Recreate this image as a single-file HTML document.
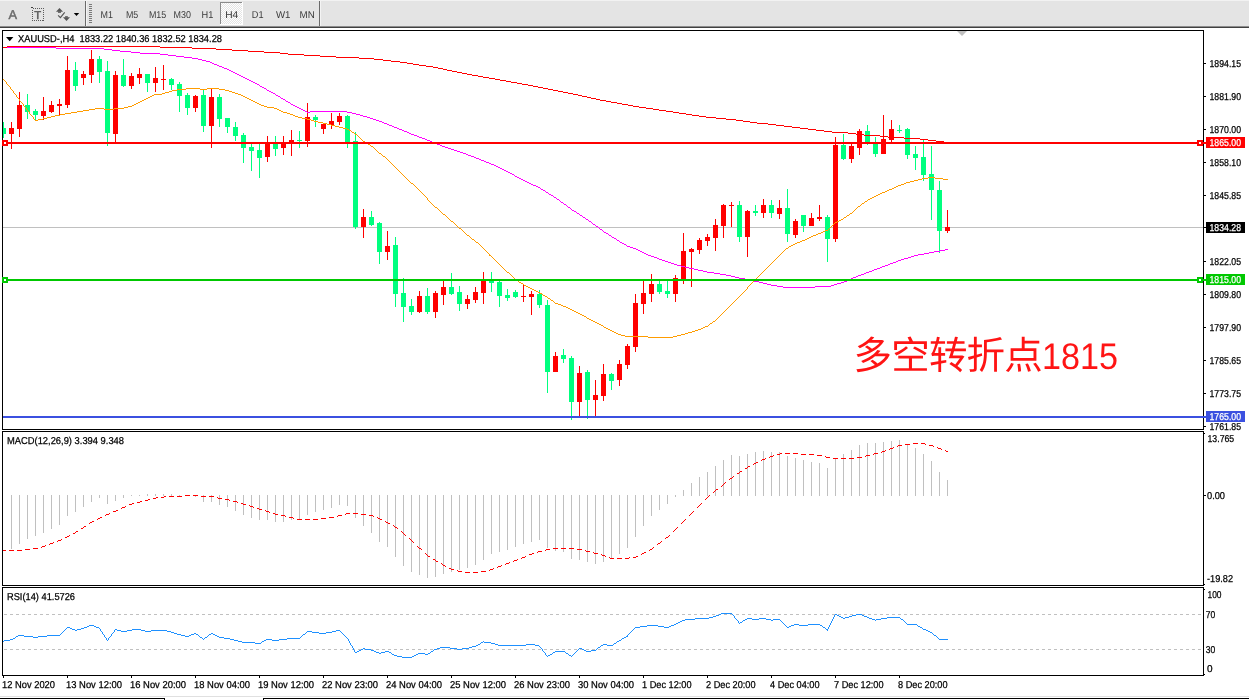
<!DOCTYPE html>
<html lang="zh">
<head>
<meta charset="utf-8">
<title>XAUUSD H4</title>
<style>
html,body{margin:0;padding:0;background:#fff;overflow:hidden}
svg{display:block;will-change:transform;font-family:'Liberation Sans', sans-serif;}
</style>
</head>
<body>
<svg width="1249" height="700" viewBox="0 0 1249 700" shape-rendering="crispEdges" text-rendering="geometricPrecision">
<rect x="0" y="0" width="1249" height="700" fill="#fff"/>
<g id="toolbar">
<rect x="0" y="0" width="1249" height="26" fill="#e4e4e4"/>
<rect x="0" y="0" width="1249" height="1" fill="#f2f2f2"/>
<rect x="0" y="26" width="1249" height="1" fill="#8c8c8c"/>
<rect x="0" y="27" width="1249" height="1" fill="#404040"/>
<text x="8.4" y="19" font-size="12.8" fill="#6a6a6a" stroke="#6a6a6a" stroke-width="0.45">A</text>
<rect x="32.5" y="8.5" width="11" height="12" fill="none" stroke="#5a5a5a" stroke-width="1" stroke-dasharray="1 1"/>
<rect x="31" y="7" width="2" height="1" fill="#404040"/>
<text x="34.3" y="18.9" font-size="11.3" fill="#5a5a5a" stroke="#5a5a5a" stroke-width="0.45">T</text>
<g fill="#555" shape-rendering="geometricPrecision"><polygon points="56,11.7 59.5,8 63,11.7"/><rect x="58" y="11.5" width="3" height="1.3"/><polygon points="63,17.3 70,17.3 66.5,21"/><rect x="65.1" y="16.2" width="2.7" height="1.3"/><polyline points="58.1,15.4 60.4,17.6 64.7,12.3" fill="none" stroke="#555" stroke-width="1.15"/><polygon points="73.8,13 79.2,13 76.5,16" fill="#000"/></g>
<rect x="85" y="1" width="1" height="25" fill="#6a6a6a"/>
<rect x="86" y="1" width="1" height="25" fill="#f4f4f4"/>
<rect x="89" y="4" width="3" height="1" fill="#7a7a7a"/>
<rect x="89" y="6" width="3" height="1" fill="#7a7a7a"/>
<rect x="89" y="8" width="3" height="1" fill="#7a7a7a"/>
<rect x="89" y="10" width="3" height="1" fill="#7a7a7a"/>
<rect x="89" y="12" width="3" height="1" fill="#7a7a7a"/>
<rect x="89" y="14" width="3" height="1" fill="#7a7a7a"/>
<rect x="89" y="16" width="3" height="1" fill="#7a7a7a"/>
<rect x="89" y="18" width="3" height="1" fill="#7a7a7a"/>
<rect x="89" y="20" width="3" height="1" fill="#7a7a7a"/>
<rect x="89" y="22" width="3" height="1" fill="#7a7a7a"/>
<defs><pattern id="chk" width="2" height="2" patternUnits="userSpaceOnUse"><rect width="2" height="2" fill="#e4e4e4"/><rect width="1" height="1" fill="#fff"/><rect x="1" y="1" width="1" height="1" fill="#fff"/></pattern></defs>
<rect x="220" y="2" width="22" height="23" fill="url(#chk)"/>
<rect x="220" y="2" width="22" height="1" fill="#8a8a8a"/>
<rect x="220" y="2" width="1" height="23" fill="#8a8a8a"/>
<rect x="220" y="24" width="23" height="1" fill="#fff"/>
<rect x="242" y="2" width="1" height="23" fill="#fff"/>
<text x="100.6" y="18" font-size="10" fill="#3a3a3a" textLength="12.4" lengthAdjust="spacingAndGlyphs" stroke="none">M1</text>
<text x="125.9" y="18" font-size="10" fill="#3a3a3a" textLength="12.3" lengthAdjust="spacingAndGlyphs" stroke="none">M5</text>
<text x="148.9" y="18" font-size="10" fill="#3a3a3a" textLength="17.3" lengthAdjust="spacingAndGlyphs" stroke="none">M15</text>
<text x="173.5" y="18" font-size="10" fill="#3a3a3a" textLength="17.4" lengthAdjust="spacingAndGlyphs" stroke="none">M30</text>
<text x="201.5" y="18" font-size="10" fill="#3a3a3a" textLength="11.8" lengthAdjust="spacingAndGlyphs" stroke="none">H1</text>
<text x="225.2" y="18" font-size="10" fill="#3a3a3a" textLength="13.1" lengthAdjust="spacingAndGlyphs" stroke="none">H4</text>
<text x="251.8" y="18" font-size="10" fill="#3a3a3a" textLength="11.7" lengthAdjust="spacingAndGlyphs" stroke="none">D1</text>
<text x="276.0" y="18" font-size="10" fill="#3a3a3a" textLength="14.5" lengthAdjust="spacingAndGlyphs" stroke="none">W1</text>
<text x="299.5" y="18" font-size="10" fill="#3a3a3a" textLength="15.2" lengthAdjust="spacingAndGlyphs" stroke="none">MN</text>
<rect x="319" y="1" width="1" height="25" fill="#6a6a6a"/>
<rect x="320" y="1" width="1" height="25" fill="#f4f4f4"/>
</g>
<g id="frames" fill="#000">
<rect x="2" y="30" width="1202" height="1" fill="#000"/>
<rect x="2" y="30" width="1" height="400" fill="#000"/>
<rect x="2" y="429" width="1202" height="1" fill="#000"/>
<rect x="2" y="431" width="1202" height="1" fill="#000"/>
<rect x="2" y="431" width="1" height="155" fill="#000"/>
<rect x="2" y="585" width="1202" height="1" fill="#000"/>
<rect x="2" y="587" width="1202" height="1" fill="#000"/>
<rect x="2" y="587" width="1" height="89" fill="#000"/>
<rect x="2" y="675" width="1202" height="1" fill="#000"/>
<rect x="1203" y="30" width="1" height="400" fill="#000"/>
<rect x="1203" y="431" width="1" height="155" fill="#000"/>
<rect x="1203" y="587" width="1" height="89" fill="#000"/>
</g>
<polygon points="957,31 967,31 962,36" fill="#c0c0c0" shape-rendering="geometricPrecision"/>
<g id="main">
<rect x="3" y="227" width="1200" height="1" fill="#c0c0c0"/>
<rect x="3" y="122" width="1" height="16" fill="#00ff7f"/>
<rect x="3" y="128" width="3" height="6" fill="#00ff7f"/>
<rect x="11" y="122" width="1" height="27" fill="#ff0000"/>
<rect x="9" y="128" width="5" height="6" fill="#ff0000"/>
<rect x="19" y="92" width="1" height="45" fill="#ff0000"/>
<rect x="17" y="105" width="5" height="24" fill="#ff0000"/>
<rect x="27" y="94" width="1" height="25" fill="#00ff7f"/>
<rect x="25" y="105" width="5" height="7" fill="#00ff7f"/>
<rect x="35" y="109" width="1" height="11" fill="#00ff7f"/>
<rect x="33" y="111" width="5" height="4" fill="#00ff7f"/>
<rect x="43" y="97" width="1" height="23" fill="#ff0000"/>
<rect x="41" y="111" width="5" height="5" fill="#ff0000"/>
<rect x="51" y="101" width="1" height="12" fill="#ff0000"/>
<rect x="49" y="105" width="5" height="7" fill="#ff0000"/>
<rect x="59" y="99" width="1" height="17" fill="#ff0000"/>
<rect x="57" y="104" width="5" height="2" fill="#ff0000"/>
<rect x="67" y="56" width="1" height="52" fill="#ff0000"/>
<rect x="65" y="70" width="5" height="35" fill="#ff0000"/>
<rect x="75" y="62" width="1" height="29" fill="#00ff7f"/>
<rect x="73" y="70" width="5" height="16" fill="#00ff7f"/>
<rect x="83" y="71" width="1" height="14" fill="#ff0000"/>
<rect x="81" y="74" width="5" height="4" fill="#ff0000"/>
<rect x="91" y="50" width="1" height="33" fill="#ff0000"/>
<rect x="89" y="59" width="5" height="16" fill="#ff0000"/>
<rect x="99" y="56" width="1" height="27" fill="#00ff7f"/>
<rect x="97" y="59" width="5" height="13" fill="#00ff7f"/>
<rect x="107" y="61" width="1" height="85" fill="#00ff7f"/>
<rect x="105" y="71" width="5" height="62" fill="#00ff7f"/>
<rect x="115" y="71" width="1" height="72" fill="#ff0000"/>
<rect x="113" y="75" width="5" height="59" fill="#ff0000"/>
<rect x="123" y="59" width="1" height="28" fill="#00ff7f"/>
<rect x="121" y="75" width="5" height="11" fill="#00ff7f"/>
<rect x="131" y="73" width="1" height="16" fill="#ff0000"/>
<rect x="129" y="76" width="5" height="10" fill="#ff0000"/>
<rect x="139" y="68" width="1" height="16" fill="#ff0000"/>
<rect x="137" y="74" width="5" height="4" fill="#ff0000"/>
<rect x="147" y="74" width="1" height="18" fill="#00ff7f"/>
<rect x="145" y="74" width="5" height="9" fill="#00ff7f"/>
<rect x="155" y="67" width="1" height="25" fill="#ff0000"/>
<rect x="153" y="78" width="5" height="5" fill="#ff0000"/>
<rect x="163" y="65" width="1" height="25" fill="#ff0000"/>
<rect x="161" y="79" width="5" height="1" fill="#ff0000"/>
<rect x="171" y="78" width="1" height="12" fill="#00ff7f"/>
<rect x="169" y="79" width="5" height="6" fill="#00ff7f"/>
<rect x="179" y="82" width="1" height="30" fill="#00ff7f"/>
<rect x="177" y="84" width="5" height="12" fill="#00ff7f"/>
<rect x="187" y="93" width="1" height="22" fill="#00ff7f"/>
<rect x="185" y="95" width="5" height="13" fill="#00ff7f"/>
<rect x="195" y="95" width="1" height="17" fill="#ff0000"/>
<rect x="193" y="96" width="5" height="12" fill="#ff0000"/>
<rect x="203" y="90" width="1" height="42" fill="#00ff7f"/>
<rect x="201" y="95" width="5" height="31" fill="#00ff7f"/>
<rect x="211" y="89" width="1" height="59" fill="#ff0000"/>
<rect x="209" y="97" width="5" height="29" fill="#ff0000"/>
<rect x="219" y="94" width="1" height="33" fill="#00ff7f"/>
<rect x="217" y="97" width="5" height="22" fill="#00ff7f"/>
<rect x="227" y="118" width="1" height="15" fill="#00ff7f"/>
<rect x="225" y="118" width="5" height="9" fill="#00ff7f"/>
<rect x="235" y="122" width="1" height="19" fill="#00ff7f"/>
<rect x="233" y="127" width="5" height="9" fill="#00ff7f"/>
<rect x="243" y="133" width="1" height="30" fill="#00ff7f"/>
<rect x="241" y="135" width="5" height="13" fill="#00ff7f"/>
<rect x="251" y="144" width="1" height="27" fill="#00ff7f"/>
<rect x="249" y="147" width="5" height="4" fill="#00ff7f"/>
<rect x="259" y="144" width="1" height="34" fill="#00ff7f"/>
<rect x="257" y="150" width="5" height="8" fill="#00ff7f"/>
<rect x="267" y="136" width="1" height="26" fill="#ff0000"/>
<rect x="265" y="144" width="5" height="13" fill="#ff0000"/>
<rect x="275" y="136" width="1" height="20" fill="#00ff7f"/>
<rect x="273" y="144" width="5" height="5" fill="#00ff7f"/>
<rect x="283" y="136" width="1" height="19" fill="#ff0000"/>
<rect x="281" y="143" width="5" height="5" fill="#ff0000"/>
<rect x="291" y="130" width="1" height="26" fill="#ff0000"/>
<rect x="289" y="140" width="5" height="3" fill="#ff0000"/>
<rect x="299" y="131" width="1" height="17" fill="#00ff7f"/>
<rect x="297" y="140" width="5" height="1" fill="#00ff7f"/>
<rect x="307" y="103" width="1" height="44" fill="#ff0000"/>
<rect x="305" y="117" width="5" height="24" fill="#ff0000"/>
<rect x="315" y="115" width="1" height="12" fill="#00ff7f"/>
<rect x="313" y="117" width="5" height="3" fill="#00ff7f"/>
<rect x="323" y="123" width="1" height="11" fill="#ff0000"/>
<rect x="321" y="124" width="5" height="5" fill="#ff0000"/>
<rect x="331" y="113" width="1" height="16" fill="#ff0000"/>
<rect x="329" y="121" width="5" height="4" fill="#ff0000"/>
<rect x="339" y="113" width="1" height="12" fill="#ff0000"/>
<rect x="337" y="116" width="5" height="6" fill="#ff0000"/>
<rect x="347" y="115" width="1" height="33" fill="#00ff7f"/>
<rect x="345" y="116" width="5" height="26" fill="#00ff7f"/>
<rect x="355" y="132" width="1" height="97" fill="#00ff7f"/>
<rect x="353" y="141" width="5" height="86" fill="#00ff7f"/>
<rect x="363" y="209" width="1" height="29" fill="#ff0000"/>
<rect x="361" y="217" width="5" height="10" fill="#ff0000"/>
<rect x="371" y="211" width="1" height="15" fill="#00ff7f"/>
<rect x="369" y="217" width="5" height="8" fill="#00ff7f"/>
<rect x="379" y="222" width="1" height="42" fill="#00ff7f"/>
<rect x="377" y="223" width="5" height="29" fill="#00ff7f"/>
<rect x="387" y="231" width="1" height="29" fill="#ff0000"/>
<rect x="385" y="246" width="5" height="6" fill="#ff0000"/>
<rect x="395" y="237" width="1" height="70" fill="#00ff7f"/>
<rect x="393" y="245" width="5" height="49" fill="#00ff7f"/>
<rect x="403" y="278" width="1" height="44" fill="#00ff7f"/>
<rect x="401" y="293" width="5" height="14" fill="#00ff7f"/>
<rect x="411" y="299" width="1" height="16" fill="#00ff7f"/>
<rect x="409" y="306" width="5" height="6" fill="#00ff7f"/>
<rect x="419" y="291" width="1" height="22" fill="#ff0000"/>
<rect x="417" y="296" width="5" height="16" fill="#ff0000"/>
<rect x="427" y="288" width="1" height="26" fill="#00ff7f"/>
<rect x="425" y="296" width="5" height="16" fill="#00ff7f"/>
<rect x="435" y="291" width="1" height="27" fill="#ff0000"/>
<rect x="433" y="293" width="5" height="19" fill="#ff0000"/>
<rect x="443" y="281" width="1" height="24" fill="#ff0000"/>
<rect x="441" y="287" width="5" height="8" fill="#ff0000"/>
<rect x="451" y="273" width="1" height="22" fill="#00ff7f"/>
<rect x="449" y="287" width="5" height="7" fill="#00ff7f"/>
<rect x="459" y="286" width="1" height="25" fill="#00ff7f"/>
<rect x="457" y="292" width="5" height="12" fill="#00ff7f"/>
<rect x="467" y="295" width="1" height="14" fill="#ff0000"/>
<rect x="465" y="299" width="5" height="5" fill="#ff0000"/>
<rect x="475" y="287" width="1" height="16" fill="#ff0000"/>
<rect x="473" y="292" width="5" height="8" fill="#ff0000"/>
<rect x="483" y="272" width="1" height="32" fill="#ff0000"/>
<rect x="481" y="281" width="5" height="12" fill="#ff0000"/>
<rect x="491" y="272" width="1" height="20" fill="#00ff7f"/>
<rect x="489" y="279" width="5" height="4" fill="#00ff7f"/>
<rect x="499" y="281" width="1" height="26" fill="#00ff7f"/>
<rect x="497" y="282" width="5" height="14" fill="#00ff7f"/>
<rect x="507" y="289" width="1" height="12" fill="#00ff7f"/>
<rect x="505" y="295" width="5" height="3" fill="#00ff7f"/>
<rect x="515" y="290" width="1" height="8" fill="#00ff7f"/>
<rect x="513" y="292" width="5" height="5" fill="#00ff7f"/>
<rect x="523" y="284" width="1" height="18" fill="#ff0000"/>
<rect x="521" y="296" width="5" height="1" fill="#ff0000"/>
<rect x="531" y="291" width="1" height="24" fill="#ff0000"/>
<rect x="529" y="294" width="5" height="3" fill="#ff0000"/>
<rect x="539" y="290" width="1" height="18" fill="#00ff7f"/>
<rect x="537" y="294" width="5" height="11" fill="#00ff7f"/>
<rect x="547" y="300" width="1" height="93" fill="#00ff7f"/>
<rect x="545" y="305" width="5" height="67" fill="#00ff7f"/>
<rect x="555" y="352" width="1" height="20" fill="#ff0000"/>
<rect x="553" y="356" width="5" height="16" fill="#ff0000"/>
<rect x="563" y="349" width="1" height="14" fill="#00ff7f"/>
<rect x="561" y="355" width="5" height="4" fill="#00ff7f"/>
<rect x="571" y="356" width="1" height="64" fill="#00ff7f"/>
<rect x="569" y="358" width="5" height="44" fill="#00ff7f"/>
<rect x="579" y="366" width="1" height="51" fill="#ff0000"/>
<rect x="577" y="373" width="5" height="29" fill="#ff0000"/>
<rect x="587" y="370" width="1" height="49" fill="#00ff7f"/>
<rect x="585" y="372" width="5" height="28" fill="#00ff7f"/>
<rect x="595" y="380" width="1" height="37" fill="#ff0000"/>
<rect x="593" y="395" width="5" height="5" fill="#ff0000"/>
<rect x="603" y="364" width="1" height="37" fill="#ff0000"/>
<rect x="601" y="374" width="5" height="22" fill="#ff0000"/>
<rect x="611" y="373" width="1" height="17" fill="#00ff7f"/>
<rect x="609" y="374" width="5" height="7" fill="#00ff7f"/>
<rect x="619" y="360" width="1" height="26" fill="#ff0000"/>
<rect x="617" y="364" width="5" height="16" fill="#ff0000"/>
<rect x="627" y="344" width="1" height="25" fill="#ff0000"/>
<rect x="625" y="346" width="5" height="19" fill="#ff0000"/>
<rect x="635" y="294" width="1" height="58" fill="#ff0000"/>
<rect x="633" y="303" width="5" height="44" fill="#ff0000"/>
<rect x="643" y="280" width="1" height="34" fill="#ff0000"/>
<rect x="641" y="293" width="5" height="11" fill="#ff0000"/>
<rect x="651" y="274" width="1" height="28" fill="#ff0000"/>
<rect x="649" y="284" width="5" height="10" fill="#ff0000"/>
<rect x="659" y="280" width="1" height="14" fill="#00ff7f"/>
<rect x="657" y="284" width="5" height="8" fill="#00ff7f"/>
<rect x="667" y="280" width="1" height="18" fill="#00ff7f"/>
<rect x="665" y="291" width="5" height="3" fill="#00ff7f"/>
<rect x="675" y="275" width="1" height="27" fill="#ff0000"/>
<rect x="673" y="278" width="5" height="16" fill="#ff0000"/>
<rect x="683" y="233" width="1" height="51" fill="#ff0000"/>
<rect x="681" y="251" width="5" height="28" fill="#ff0000"/>
<rect x="691" y="248" width="1" height="39" fill="#ff0000"/>
<rect x="689" y="249" width="5" height="3" fill="#ff0000"/>
<rect x="699" y="238" width="1" height="16" fill="#ff0000"/>
<rect x="697" y="240" width="5" height="10" fill="#ff0000"/>
<rect x="707" y="234" width="1" height="12" fill="#ff0000"/>
<rect x="705" y="237" width="5" height="4" fill="#ff0000"/>
<rect x="715" y="219" width="1" height="32" fill="#ff0000"/>
<rect x="713" y="225" width="5" height="13" fill="#ff0000"/>
<rect x="723" y="204" width="1" height="34" fill="#ff0000"/>
<rect x="721" y="205" width="5" height="21" fill="#ff0000"/>
<rect x="731" y="202" width="1" height="25" fill="#ff0000"/>
<rect x="729" y="205" width="5" height="1" fill="#ff0000"/>
<rect x="739" y="201" width="1" height="41" fill="#00ff7f"/>
<rect x="737" y="205" width="5" height="32" fill="#00ff7f"/>
<rect x="747" y="210" width="1" height="47" fill="#ff0000"/>
<rect x="745" y="211" width="5" height="26" fill="#ff0000"/>
<rect x="755" y="205" width="1" height="11" fill="#00ff7f"/>
<rect x="753" y="211" width="5" height="2" fill="#00ff7f"/>
<rect x="763" y="199" width="1" height="19" fill="#ff0000"/>
<rect x="761" y="205" width="5" height="8" fill="#ff0000"/>
<rect x="771" y="200" width="1" height="18" fill="#00ff7f"/>
<rect x="769" y="205" width="5" height="8" fill="#00ff7f"/>
<rect x="779" y="200" width="1" height="19" fill="#ff0000"/>
<rect x="777" y="208" width="5" height="6" fill="#ff0000"/>
<rect x="787" y="189" width="1" height="53" fill="#00ff7f"/>
<rect x="785" y="208" width="5" height="26" fill="#00ff7f"/>
<rect x="795" y="219" width="1" height="19" fill="#ff0000"/>
<rect x="793" y="221" width="5" height="14" fill="#ff0000"/>
<rect x="803" y="215" width="1" height="17" fill="#00ff7f"/>
<rect x="801" y="215" width="5" height="11" fill="#00ff7f"/>
<rect x="811" y="213" width="1" height="13" fill="#ff0000"/>
<rect x="809" y="218" width="5" height="8" fill="#ff0000"/>
<rect x="819" y="205" width="1" height="16" fill="#ff0000"/>
<rect x="817" y="217" width="5" height="2" fill="#ff0000"/>
<rect x="827" y="215" width="1" height="47" fill="#00ff7f"/>
<rect x="825" y="217" width="5" height="22" fill="#00ff7f"/>
<rect x="835" y="137" width="1" height="105" fill="#ff0000"/>
<rect x="833" y="145" width="5" height="94" fill="#ff0000"/>
<rect x="843" y="134" width="1" height="26" fill="#00ff7f"/>
<rect x="841" y="145" width="5" height="14" fill="#00ff7f"/>
<rect x="851" y="143" width="1" height="20" fill="#ff0000"/>
<rect x="849" y="146" width="5" height="13" fill="#ff0000"/>
<rect x="859" y="129" width="1" height="26" fill="#ff0000"/>
<rect x="857" y="131" width="5" height="17" fill="#ff0000"/>
<rect x="867" y="125" width="1" height="20" fill="#00ff7f"/>
<rect x="865" y="131" width="5" height="13" fill="#00ff7f"/>
<rect x="875" y="137" width="1" height="20" fill="#00ff7f"/>
<rect x="873" y="144" width="5" height="10" fill="#00ff7f"/>
<rect x="883" y="115" width="1" height="39" fill="#ff0000"/>
<rect x="881" y="139" width="5" height="15" fill="#ff0000"/>
<rect x="891" y="120" width="1" height="22" fill="#ff0000"/>
<rect x="889" y="129" width="5" height="11" fill="#ff0000"/>
<rect x="899" y="125" width="1" height="8" fill="#00ff7f"/>
<rect x="897" y="130" width="5" height="1" fill="#00ff7f"/>
<rect x="907" y="128" width="1" height="31" fill="#00ff7f"/>
<rect x="905" y="129" width="5" height="26" fill="#00ff7f"/>
<rect x="915" y="146" width="1" height="24" fill="#00ff7f"/>
<rect x="913" y="154" width="5" height="4" fill="#00ff7f"/>
<rect x="923" y="140" width="1" height="41" fill="#00ff7f"/>
<rect x="921" y="157" width="5" height="18" fill="#00ff7f"/>
<rect x="931" y="146" width="1" height="74" fill="#00ff7f"/>
<rect x="929" y="174" width="5" height="16" fill="#00ff7f"/>
<rect x="939" y="181" width="1" height="72" fill="#00ff7f"/>
<rect x="937" y="190" width="5" height="41" fill="#00ff7f"/>
<rect x="947" y="210" width="1" height="23" fill="#ff0000"/>
<rect x="945" y="227" width="5" height="4" fill="#ff0000"/>
<path d="M3 47h53v1h-53zM56 48h48v1h-48zM104 49h8v1h-8zM112 50h8v1h-8zM120 51h11v1h-11zM131 52h9v1h-9zM140 53h20v1h-20zM160 54h8v1h-8zM168 55h8v1h-8zM176 56h8v1h-8zM184 57h8v1h-8zM192 58h6v1h-6zM198 59h4v1h-4zM202 60h4v1h-4zM206 61h4v1h-4zM210 62h2v1h-2zM212 63h2v1h-2zM214 64h3v1h-3zM217 65h2v1h-2zM219 66h3v1h-3zM222 67h2v1h-2zM224 68h3v1h-3zM227 69h2v1h-2zM229 70h2v1h-2zM231 71h2v1h-2zM233 72h2v1h-2zM235 73h2v1h-2zM237 74h2v1h-2zM239 75h2v1h-2zM241 76h2v1h-2zM243 77h2v1h-2zM245 78h2v1h-2zM247 79h2v1h-2zM249 80h2v1h-2zM251 81h2v1h-2zM253 82h2v1h-2zM255 83h2v1h-2zM257 84h2v1h-2zM259 85h1v1h-1zM260 86h2v1h-2zM262 87h2v1h-2zM264 88h2v1h-2zM266 89h1v1h-1zM267 90h2v1h-2zM269 91h2v1h-2zM271 92h2v1h-2zM273 93h2v1h-2zM275 94h1v1h-1zM276 95h2v1h-2zM278 96h2v1h-2zM280 97h1v1h-1zM281 98h2v1h-2zM283 99h2v1h-2zM285 100h1v1h-1zM286 101h2v1h-2zM288 102h2v1h-2zM290 103h1v1h-1zM291 104h2v1h-2zM293 105h2v1h-2zM295 106h2v1h-2zM297 107h2v1h-2zM299 108h2v1h-2zM301 109h2v1h-2zM303 110h2v1h-2zM305 111h2v1h-2zM310 111h37v1h-37zM307 112h3v1h-3zM347 112h5v1h-5zM352 113h4v1h-4zM356 114h4v1h-4zM360 115h3v1h-3zM363 116h4v1h-4zM367 117h3v1h-3zM370 118h3v1h-3zM373 119h3v1h-3zM376 120h3v1h-3zM379 121h3v1h-3zM382 122h2v1h-2zM384 123h3v1h-3zM387 124h2v1h-2zM389 125h3v1h-3zM392 126h2v1h-2zM394 127h3v1h-3zM397 128h2v1h-2zM399 129h3v1h-3zM402 130h2v1h-2zM404 131h3v1h-3zM407 132h2v1h-2zM409 133h2v1h-2zM411 134h3v1h-3zM414 135h3v1h-3zM417 136h2v1h-2zM419 137h3v1h-3zM422 138h3v1h-3zM425 139h2v1h-2zM427 140h3v1h-3zM430 141h2v1h-2zM432 142h3v1h-3zM435 143h2v1h-2zM437 144h3v1h-3zM440 145h2v1h-2zM442 146h3v1h-3zM445 147h3v1h-3zM448 148h3v1h-3zM451 149h3v1h-3zM454 150h3v1h-3zM457 151h3v1h-3zM460 152h3v1h-3zM463 153h3v1h-3zM466 154h2v1h-2zM468 155h3v1h-3zM471 156h3v1h-3zM474 157h2v1h-2zM476 158h3v1h-3zM479 159h2v1h-2zM481 160h3v1h-3zM484 161h2v1h-2zM486 162h3v1h-3zM489 163h2v1h-2zM491 164h3v1h-3zM494 165h2v1h-2zM496 166h2v1h-2zM498 167h2v1h-2zM500 168h2v1h-2zM502 169h2v1h-2zM504 170h2v1h-2zM506 171h2v1h-2zM508 172h2v1h-2zM510 173h2v1h-2zM512 174h2v1h-2zM514 175h1v1h-1zM515 176h2v1h-2zM517 177h2v1h-2zM519 178h2v1h-2zM521 179h2v1h-2zM523 180h2v1h-2zM525 181h2v1h-2zM527 182h2v1h-2zM529 183h2v1h-2zM531 184h2v1h-2zM533 185h3v1h-3zM536 186h2v1h-2zM538 187h2v1h-2zM540 188h1v1h-1zM541 189h2v1h-2zM543 190h2v1h-2zM545 191h1v1h-1zM546 192h2v1h-2zM548 193h1v1h-1zM549 194h2v1h-2zM551 195h2v1h-2zM553 196h1v1h-1zM554 197h2v1h-2zM556 198h1v1h-1zM557 199h2v1h-2zM559 200h1v1h-1zM560 201h1v1h-1zM561 202h2v1h-2zM563 203h1v1h-1zM564 204h2v1h-2zM566 205h1v1h-1zM567 206h1v1h-1zM568 207h2v1h-2zM570 208h1v1h-1zM571 209h1v1h-1zM572 210h2v1h-2zM574 211h2v1h-2zM576 212h1v1h-1zM577 213h2v1h-2zM579 214h1v1h-1zM580 215h2v1h-2zM582 216h1v1h-1zM583 217h2v1h-2zM585 218h1v1h-1zM586 219h2v1h-2zM588 220h1v1h-1zM589 221h2v1h-2zM591 222h1v1h-1zM592 223h1v1h-1zM593 224h2v1h-2zM595 225h1v1h-1zM596 226h2v1h-2zM598 227h1v1h-1zM599 228h1v1h-1zM600 229h2v1h-2zM602 230h1v1h-1zM603 231h1v1h-1zM604 232h2v1h-2zM606 233h2v1h-2zM608 234h1v1h-1zM609 235h2v1h-2zM611 236h1v1h-1zM612 237h2v1h-2zM614 238h2v1h-2zM616 239h1v1h-1zM617 240h2v1h-2zM619 241h1v1h-1zM620 242h2v1h-2zM622 243h2v1h-2zM624 244h2v1h-2zM626 245h1v1h-1zM627 246h3v1h-3zM630 247h3v1h-3zM633 248h3v1h-3zM636 249h2v1h-2zM945 249h3v1h-3zM638 250h2v1h-2zM940 250h5v1h-5zM640 251h2v1h-2zM934 251h6v1h-6zM642 252h2v1h-2zM929 252h5v1h-5zM644 253h2v1h-2zM924 253h5v1h-5zM646 254h2v1h-2zM918 254h6v1h-6zM648 255h3v1h-3zM914 255h4v1h-4zM651 256h3v1h-3zM911 256h3v1h-3zM654 257h3v1h-3zM908 257h3v1h-3zM657 258h2v1h-2zM904 258h4v1h-4zM659 259h3v1h-3zM901 259h3v1h-3zM662 260h3v1h-3zM898 260h3v1h-3zM665 261h3v1h-3zM896 261h2v1h-2zM668 262h3v1h-3zM893 262h3v1h-3zM671 263h3v1h-3zM890 263h3v1h-3zM674 264h3v1h-3zM888 264h2v1h-2zM677 265h4v1h-4zM885 265h3v1h-3zM681 266h4v1h-4zM882 266h3v1h-3zM685 267h4v1h-4zM880 267h2v1h-2zM689 268h5v1h-5zM877 268h3v1h-3zM694 269h4v1h-4zM874 269h3v1h-3zM698 270h5v1h-5zM872 270h2v1h-2zM703 271h4v1h-4zM869 271h3v1h-3zM707 272h7v1h-7zM866 272h3v1h-3zM714 273h6v1h-6zM864 273h2v1h-2zM720 274h6v1h-6zM861 274h3v1h-3zM726 275h5v1h-5zM858 275h3v1h-3zM731 276h4v1h-4zM856 276h2v1h-2zM735 277h4v1h-4zM853 277h3v1h-3zM739 278h6v1h-6zM851 278h2v1h-2zM745 279h5v1h-5zM849 279h2v1h-2zM750 280h4v1h-4zM847 280h2v1h-2zM754 281h5v1h-5zM844 281h3v1h-3zM759 282h4v1h-4zM841 282h3v1h-3zM763 283h4v1h-4zM837 283h4v1h-4zM767 284h4v1h-4zM834 284h3v1h-3zM771 285h6v1h-6zM831 285h3v1h-3zM777 286h6v1h-6zM815 286h16v1h-16zM783 287h32v1h-32z" fill="#ff00ff"/>
<path d="M3 79h1v1h-1zM4 80h1v1h-1zM5 81h1v1h-1zM6 82h1v1h-1zM6 83h1v1h-1zM7 84h1v1h-1zM8 85h1v1h-1zM9 86h1v1h-1zM10 87h1v1h-1zM10 88h1v1h-1zM186 88h14v1h-14zM207 88h12v1h-12zM11 89h1v1h-1zM177 89h9v1h-9zM200 89h7v1h-7zM219 89h6v1h-6zM12 90h1v1h-1zM172 90h5v1h-5zM225 90h4v1h-4zM13 91h1v1h-1zM169 91h3v1h-3zM229 91h3v1h-3zM13 92h1v1h-1zM165 92h4v1h-4zM232 92h3v1h-3zM14 93h1v1h-1zM162 93h3v1h-3zM235 93h3v1h-3zM15 94h1v1h-1zM154 94h8v1h-8zM238 94h3v1h-3zM16 95h1v1h-1zM152 95h2v1h-2zM241 95h2v1h-2zM16 96h1v1h-1zM150 96h2v1h-2zM243 96h2v1h-2zM17 97h1v1h-1zM148 97h2v1h-2zM245 97h2v1h-2zM18 98h1v1h-1zM146 98h2v1h-2zM247 98h2v1h-2zM19 99h1v1h-1zM144 99h2v1h-2zM249 99h2v1h-2zM19 100h1v1h-1zM142 100h2v1h-2zM251 100h2v1h-2zM20 101h1v1h-1zM140 101h2v1h-2zM253 101h2v1h-2zM21 102h1v1h-1zM138 102h2v1h-2zM255 102h2v1h-2zM22 103h1v1h-1zM136 103h2v1h-2zM257 103h2v1h-2zM23 104h1v1h-1zM134 104h2v1h-2zM259 104h2v1h-2zM23 105h1v1h-1zM132 105h2v1h-2zM261 105h3v1h-3zM24 106h1v1h-1zM128 106h4v1h-4zM264 106h3v1h-3zM25 107h1v1h-1zM124 107h4v1h-4zM267 107h7v1h-7zM26 108h1v1h-1zM95 108h9v1h-9zM114 108h10v1h-10zM274 108h3v1h-3zM26 109h1v1h-1zM89 109h6v1h-6zM104 109h10v1h-10zM277 109h2v1h-2zM27 110h1v1h-1zM83 110h6v1h-6zM279 110h2v1h-2zM28 111h1v1h-1zM77 111h6v1h-6zM281 111h2v1h-2zM29 112h1v1h-1zM71 112h6v1h-6zM283 112h4v1h-4zM29 113h1v1h-1zM65 113h6v1h-6zM287 113h3v1h-3zM30 114h1v1h-1zM60 114h5v1h-5zM290 114h3v1h-3zM31 115h1v1h-1zM55 115h5v1h-5zM293 115h2v1h-2zM32 116h1v1h-1zM51 116h4v1h-4zM295 116h3v1h-3zM33 117h1v1h-1zM47 117h4v1h-4zM298 117h4v1h-4zM33 118h1v1h-1zM43 118h4v1h-4zM302 118h5v1h-5zM34 119h1v1h-1zM38 119h5v1h-5zM307 119h4v1h-4zM35 120h3v1h-3zM311 120h3v1h-3zM314 121h4v1h-4zM318 122h5v1h-5zM323 123h4v1h-4zM327 124h4v1h-4zM331 125h4v1h-4zM335 126h4v1h-4zM339 127h4v1h-4zM343 128h4v1h-4zM347 129h2v1h-2zM349 130h2v1h-2zM351 131h1v1h-1zM352 132h2v1h-2zM354 133h1v1h-1zM355 134h2v1h-2zM357 135h1v1h-1zM358 136h1v1h-1zM359 137h1v1h-1zM360 138h1v1h-1zM361 139h1v1h-1zM362 140h1v1h-1zM363 141h2v1h-2zM365 142h2v1h-2zM367 143h1v1h-1zM368 144h2v1h-2zM370 145h1v1h-1zM371 146h2v1h-2zM373 147h1v1h-1zM374 148h1v1h-1zM375 149h1v1h-1zM376 150h1v1h-1zM377 151h1v1h-1zM378 152h1v1h-1zM379 153h2v1h-2zM381 154h1v1h-1zM382 155h1v1h-1zM383 156h2v1h-2zM385 157h1v1h-1zM386 158h1v1h-1zM387 159h1v1h-1zM388 160h1v1h-1zM389 161h1v1h-1zM390 162h1v1h-1zM391 163h1v1h-1zM392 164h1v1h-1zM393 165h1v1h-1zM394 166h1v1h-1zM395 167h1v1h-1zM396 168h1v1h-1zM397 169h1v1h-1zM398 170h1v1h-1zM399 171h1v1h-1zM400 172h1v1h-1zM401 173h1v1h-1zM402 174h1v1h-1zM403 175h1v1h-1zM404 176h1v1h-1zM405 177h1v1h-1zM928 177h7v1h-7zM406 178h1v1h-1zM922 178h6v1h-6zM935 178h8v1h-8zM407 179h1v1h-1zM918 179h4v1h-4zM943 179h5v1h-5zM408 180h1v1h-1zM914 180h4v1h-4zM409 181h1v1h-1zM910 181h4v1h-4zM410 182h1v1h-1zM906 182h4v1h-4zM411 183h2v1h-2zM904 183h2v1h-2zM413 184h1v1h-1zM901 184h3v1h-3zM414 185h1v1h-1zM898 185h3v1h-3zM415 186h1v1h-1zM896 186h2v1h-2zM416 187h1v1h-1zM894 187h2v1h-2zM417 188h1v1h-1zM892 188h2v1h-2zM418 189h1v1h-1zM889 189h3v1h-3zM419 190h1v1h-1zM887 190h2v1h-2zM420 191h1v1h-1zM885 191h2v1h-2zM421 192h1v1h-1zM882 192h3v1h-3zM422 193h1v1h-1zM880 193h2v1h-2zM423 194h1v1h-1zM878 194h2v1h-2zM424 195h1v1h-1zM876 195h2v1h-2zM425 196h1v1h-1zM874 196h2v1h-2zM426 197h1v1h-1zM872 197h2v1h-2zM427 198h1v1h-1zM870 198h2v1h-2zM427 199h1v1h-1zM868 199h2v1h-2zM428 200h1v1h-1zM867 200h1v1h-1zM429 201h1v1h-1zM865 201h2v1h-2zM430 202h1v1h-1zM864 202h1v1h-1zM431 203h1v1h-1zM862 203h2v1h-2zM432 204h1v1h-1zM861 204h1v1h-1zM433 205h1v1h-1zM860 205h1v1h-1zM434 206h1v1h-1zM858 206h2v1h-2zM435 207h2v1h-2zM857 207h1v1h-1zM437 208h1v1h-1zM856 208h1v1h-1zM438 209h1v1h-1zM855 209h1v1h-1zM439 210h1v1h-1zM854 210h1v1h-1zM440 211h1v1h-1zM853 211h1v1h-1zM441 212h1v1h-1zM852 212h1v1h-1zM442 213h1v1h-1zM850 213h2v1h-2zM443 214h2v1h-2zM849 214h1v1h-1zM445 215h1v1h-1zM847 215h2v1h-2zM446 216h1v1h-1zM846 216h1v1h-1zM447 217h1v1h-1zM844 217h2v1h-2zM448 218h1v1h-1zM843 218h1v1h-1zM449 219h1v1h-1zM841 219h2v1h-2zM450 220h1v1h-1zM839 220h2v1h-2zM451 221h2v1h-2zM837 221h2v1h-2zM453 222h1v1h-1zM835 222h2v1h-2zM454 223h1v1h-1zM834 223h1v1h-1zM455 224h1v1h-1zM833 224h1v1h-1zM456 225h1v1h-1zM832 225h1v1h-1zM457 226h1v1h-1zM831 226h1v1h-1zM458 227h1v1h-1zM830 227h1v1h-1zM459 228h2v1h-2zM829 228h1v1h-1zM461 229h1v1h-1zM828 229h1v1h-1zM462 230h1v1h-1zM825 230h3v1h-3zM463 231h1v1h-1zM823 231h2v1h-2zM464 232h1v1h-1zM821 232h2v1h-2zM465 233h1v1h-1zM818 233h3v1h-3zM466 234h1v1h-1zM816 234h2v1h-2zM467 235h2v1h-2zM813 235h3v1h-3zM469 236h1v1h-1zM811 236h2v1h-2zM470 237h1v1h-1zM809 237h2v1h-2zM471 238h1v1h-1zM807 238h2v1h-2zM472 239h2v1h-2zM805 239h2v1h-2zM474 240h1v1h-1zM802 240h3v1h-3zM475 241h1v1h-1zM800 241h2v1h-2zM476 242h2v1h-2zM797 242h3v1h-3zM478 243h1v1h-1zM795 243h2v1h-2zM479 244h1v1h-1zM793 244h2v1h-2zM480 245h1v1h-1zM791 245h2v1h-2zM481 246h1v1h-1zM789 246h2v1h-2zM482 247h1v1h-1zM788 247h1v1h-1zM483 248h1v1h-1zM786 248h2v1h-2zM484 249h1v1h-1zM785 249h1v1h-1zM485 250h1v1h-1zM784 250h1v1h-1zM486 251h1v1h-1zM783 251h1v1h-1zM487 252h1v1h-1zM782 252h1v1h-1zM488 253h1v1h-1zM781 253h1v1h-1zM489 254h1v1h-1zM780 254h1v1h-1zM489 255h2v1h-2zM779 255h1v1h-1zM491 256h1v1h-1zM778 256h1v1h-1zM492 257h1v1h-1zM777 257h1v1h-1zM493 258h1v1h-1zM776 258h1v1h-1zM494 259h1v1h-1zM775 259h1v1h-1zM495 260h1v1h-1zM774 260h1v1h-1zM496 261h1v1h-1zM773 261h1v1h-1zM497 262h1v1h-1zM772 262h1v1h-1zM498 263h1v1h-1zM771 263h1v1h-1zM499 264h1v1h-1zM770 264h1v1h-1zM500 265h1v1h-1zM769 265h1v1h-1zM501 266h1v1h-1zM768 266h1v1h-1zM502 267h1v1h-1zM767 267h1v1h-1zM503 268h1v1h-1zM766 268h1v1h-1zM504 269h1v1h-1zM765 269h1v1h-1zM505 270h1v1h-1zM764 270h1v1h-1zM506 271h1v1h-1zM763 271h1v1h-1zM507 272h2v1h-2zM762 272h1v1h-1zM509 273h1v1h-1zM761 273h1v1h-1zM510 274h1v1h-1zM760 274h1v1h-1zM511 275h1v1h-1zM759 275h1v1h-1zM512 276h1v1h-1zM758 276h1v1h-1zM513 277h1v1h-1zM757 277h1v1h-1zM514 278h1v1h-1zM756 278h1v1h-1zM515 279h1v1h-1zM755 279h1v1h-1zM516 280h2v1h-2zM754 280h1v1h-1zM518 281h1v1h-1zM753 281h1v1h-1zM519 282h2v1h-2zM752 282h1v1h-1zM521 283h2v1h-2zM751 283h1v1h-1zM523 284h1v1h-1zM750 284h1v1h-1zM524 285h2v1h-2zM749 285h1v1h-1zM526 286h2v1h-2zM748 286h1v1h-1zM528 287h2v1h-2zM747 287h1v1h-1zM530 288h2v1h-2zM747 288h1v1h-1zM532 289h2v1h-2zM746 289h1v1h-1zM534 290h2v1h-2zM745 290h1v1h-1zM536 291h2v1h-2zM744 291h1v1h-1zM538 292h2v1h-2zM743 292h1v1h-1zM540 293h2v1h-2zM742 293h1v1h-1zM542 294h1v1h-1zM741 294h1v1h-1zM543 295h2v1h-2zM740 295h1v1h-1zM545 296h2v1h-2zM739 296h1v1h-1zM547 297h1v1h-1zM738 297h1v1h-1zM548 298h2v1h-2zM737 298h1v1h-1zM550 299h1v1h-1zM736 299h1v1h-1zM551 300h2v1h-2zM735 300h1v1h-1zM553 301h1v1h-1zM734 301h1v1h-1zM554 302h1v1h-1zM733 302h1v1h-1zM555 303h3v1h-3zM732 303h1v1h-1zM558 304h3v1h-3zM731 304h1v1h-1zM561 305h2v1h-2zM730 305h1v1h-1zM563 306h3v1h-3zM729 306h1v1h-1zM566 307h2v1h-2zM728 307h1v1h-1zM568 308h2v1h-2zM727 308h1v1h-1zM570 309h2v1h-2zM726 309h1v1h-1zM572 310h2v1h-2zM725 310h1v1h-1zM574 311h2v1h-2zM724 311h1v1h-1zM576 312h2v1h-2zM723 312h1v1h-1zM578 313h2v1h-2zM722 313h1v1h-1zM580 314h2v1h-2zM721 314h1v1h-1zM582 315h2v1h-2zM720 315h1v1h-1zM584 316h2v1h-2zM719 316h1v1h-1zM586 317h1v1h-1zM718 317h1v1h-1zM587 318h2v1h-2zM717 318h1v1h-1zM589 319h2v1h-2zM716 319h1v1h-1zM591 320h2v1h-2zM715 320h1v1h-1zM593 321h2v1h-2zM713 321h2v1h-2zM595 322h2v1h-2zM712 322h1v1h-1zM597 323h2v1h-2zM710 323h2v1h-2zM599 324h2v1h-2zM709 324h1v1h-1zM601 325h2v1h-2zM708 325h1v1h-1zM603 326h1v1h-1zM705 326h3v1h-3zM604 327h2v1h-2zM703 327h2v1h-2zM606 328h2v1h-2zM701 328h2v1h-2zM608 329h2v1h-2zM698 329h3v1h-3zM610 330h2v1h-2zM695 330h3v1h-3zM612 331h2v1h-2zM692 331h3v1h-3zM614 332h2v1h-2zM688 332h4v1h-4zM616 333h2v1h-2zM685 333h3v1h-3zM618 334h3v1h-3zM681 334h4v1h-4zM621 335h4v1h-4zM677 335h4v1h-4zM625 336h23v1h-23zM673 336h4v1h-4zM648 337h25v1h-25z" fill="#ff9c00"/>
<path d="M7 46h153v1h-153zM3 47h4v1h-4zM160 47h32v1h-32zM192 48h24v1h-24zM216 49h16v1h-16zM232 50h16v1h-16zM248 51h16v1h-16zM264 52h16v1h-16zM280 53h8v1h-8zM288 54h16v1h-16zM304 55h16v1h-16zM320 56h16v1h-16zM336 57h23v1h-23zM359 58h15v1h-15zM374 59h9v1h-9zM383 60h8v1h-8zM391 61h9v1h-9zM400 62h7v1h-7zM407 63h6v1h-6zM413 64h6v1h-6zM419 65h7v1h-7zM426 66h7v1h-7zM433 67h5v1h-5zM438 68h5v1h-5zM443 69h4v1h-4zM447 70h5v1h-5zM452 71h5v1h-5zM457 72h5v1h-5zM462 73h5v1h-5zM467 74h5v1h-5zM472 75h6v1h-6zM478 76h5v1h-5zM483 77h6v1h-6zM489 78h6v1h-6zM495 79h5v1h-5zM500 80h6v1h-6zM506 81h5v1h-5zM511 82h6v1h-6zM517 83h5v1h-5zM522 84h6v1h-6zM528 85h5v1h-5zM533 86h5v1h-5zM538 87h5v1h-5zM543 88h5v1h-5zM548 89h5v1h-5zM553 90h5v1h-5zM558 91h5v1h-5zM563 92h5v1h-5zM568 93h5v1h-5zM573 94h5v1h-5zM578 95h4v1h-4zM582 96h5v1h-5zM587 97h4v1h-4zM591 98h5v1h-5zM596 99h4v1h-4zM600 100h6v1h-6zM606 101h5v1h-5zM611 102h6v1h-6zM617 103h5v1h-5zM622 104h6v1h-6zM628 105h5v1h-5zM633 106h6v1h-6zM639 107h7v1h-7zM646 108h7v1h-7zM653 109h6v1h-6zM659 110h7v1h-7zM666 111h7v1h-7zM673 112h6v1h-6zM679 113h7v1h-7zM686 114h6v1h-6zM692 115h7v1h-7zM699 116h7v1h-7zM706 117h10v1h-10zM716 118h10v1h-10zM726 119h10v1h-10zM736 120h7v1h-7zM743 121h7v1h-7zM750 122h7v1h-7zM757 123h11v1h-11zM768 124h8v1h-8zM776 125h8v1h-8zM784 126h8v1h-8zM792 127h8v1h-8zM800 128h8v1h-8zM808 129h8v1h-8zM816 130h8v1h-8zM824 131h8v1h-8zM832 132h16v1h-16zM848 133h8v1h-8zM856 134h8v1h-8zM864 135h16v1h-16zM880 136h8v1h-8zM888 137h16v1h-16zM904 138h16v1h-16zM920 139h8v1h-8zM928 140h8v1h-8zM936 141h8v1h-8z" fill="#ff0000"/>
<rect x="3" y="142" width="1203" height="2" fill="#ff0000"/>
<rect x="3" y="279" width="1203" height="2" fill="#00c800"/>
<rect x="3" y="416" width="1203" height="2" fill="#3b50e0"/>
<rect x="2" y="140" width="6" height="6" fill="#ff0000"/>
<rect x="4" y="142" width="2" height="2" fill="#fff"/>
<rect x="1197" y="140" width="6" height="6" fill="#ff0000"/>
<rect x="1199" y="142" width="2" height="2" fill="#fff"/>
<rect x="2" y="277" width="6" height="6" fill="#00c800"/>
<rect x="4" y="279" width="2" height="2" fill="#fff"/>
<rect x="1197" y="277" width="6" height="6" fill="#00c800"/>
<rect x="1199" y="279" width="2" height="2" fill="#fff"/>
</g>
<polygon points="6,37 13.4,37 9.7,41.3" fill="#000" shape-rendering="geometricPrecision"/>
<text x="18" y="42" font-size="10" fill="#000" textLength="204" lengthAdjust="spacingAndGlyphs" xml:space="preserve" stroke="#000" stroke-width="0.25">XAUUSD-,H4&#160; 1833.22 1840.36 1832.52 1834.28</text>
<text x="853.5" y="369" font-size="38.5" fill="#ff1414" font-weight="400" font-family='"Liberation Sans","Noto Sans CJK SC",sans-serif'><tspan letter-spacing="-0.8">多空转折点</tspan><tspan dx="0" font-size="37" textLength="76" lengthAdjust="spacingAndGlyphs">1815</tspan></text>
<rect x="1204" y="63" width="2" height="1" fill="#000"/>
<text x="1209.5" y="67" font-size="10" fill="#000" textLength="31.5" lengthAdjust="spacingAndGlyphs" stroke="#000" stroke-width="0.25">1894.15</text>
<rect x="1204" y="96" width="2" height="1" fill="#000"/>
<text x="1209.5" y="100" font-size="10" fill="#000" textLength="31.5" lengthAdjust="spacingAndGlyphs" stroke="#000" stroke-width="0.25">1881.90</text>
<rect x="1204" y="129" width="2" height="1" fill="#000"/>
<text x="1209.5" y="133" font-size="10" fill="#000" textLength="31.5" lengthAdjust="spacingAndGlyphs" stroke="#000" stroke-width="0.25">1870.00</text>
<rect x="1204" y="162" width="2" height="1" fill="#000"/>
<text x="1209.5" y="166" font-size="10" fill="#000" textLength="31.5" lengthAdjust="spacingAndGlyphs" stroke="#000" stroke-width="0.25">1858.10</text>
<rect x="1204" y="195" width="2" height="1" fill="#000"/>
<text x="1209.5" y="199" font-size="10" fill="#000" textLength="31.5" lengthAdjust="spacingAndGlyphs" stroke="#000" stroke-width="0.25">1845.85</text>
<rect x="1204" y="261" width="2" height="1" fill="#000"/>
<text x="1209.5" y="265" font-size="10" fill="#000" textLength="31.5" lengthAdjust="spacingAndGlyphs" stroke="#000" stroke-width="0.25">1822.05</text>
<rect x="1204" y="294" width="2" height="1" fill="#000"/>
<text x="1209.5" y="298" font-size="10" fill="#000" textLength="31.5" lengthAdjust="spacingAndGlyphs" stroke="#000" stroke-width="0.25">1809.80</text>
<rect x="1204" y="327" width="2" height="1" fill="#000"/>
<text x="1209.5" y="331" font-size="10" fill="#000" textLength="31.5" lengthAdjust="spacingAndGlyphs" stroke="#000" stroke-width="0.25">1797.90</text>
<rect x="1204" y="360" width="2" height="1" fill="#000"/>
<text x="1209.5" y="364" font-size="10" fill="#000" textLength="31.5" lengthAdjust="spacingAndGlyphs" stroke="#000" stroke-width="0.25">1785.65</text>
<rect x="1204" y="393" width="2" height="1" fill="#000"/>
<text x="1209.5" y="397" font-size="10" fill="#000" textLength="31.5" lengthAdjust="spacingAndGlyphs" stroke="#000" stroke-width="0.25">1773.75</text>
<rect x="1204" y="426" width="2" height="1" fill="#000"/>
<text x="1209.5" y="430" font-size="10" fill="#000" textLength="31.5" lengthAdjust="spacingAndGlyphs" stroke="#000" stroke-width="0.25">1761.85</text>
<rect x="1206" y="137" width="39" height="11" fill="#ff0000"/>
<text x="1209.5" y="146" font-size="10" fill="#fff" textLength="31.5" lengthAdjust="spacingAndGlyphs" stroke="#fff" stroke-width="0.25">1865.00</text>
<rect x="1206" y="222" width="39" height="11" fill="#000"/>
<text x="1209.5" y="231" font-size="10" fill="#fff" textLength="31.5" lengthAdjust="spacingAndGlyphs" stroke="#fff" stroke-width="0.25">1834.28</text>
<rect x="1206" y="274" width="39" height="11" fill="#00c800"/>
<text x="1209.5" y="283" font-size="10" fill="#fff" textLength="31.5" lengthAdjust="spacingAndGlyphs" stroke="#fff" stroke-width="0.25">1815.00</text>
<rect x="1206" y="411" width="39" height="11" fill="#3b50e0"/>
<text x="1209.5" y="420" font-size="10" fill="#fff" textLength="31.5" lengthAdjust="spacingAndGlyphs" stroke="#fff" stroke-width="0.25">1765.00</text>
<rect x="1204" y="227" width="2" height="1" fill="#000"/>
<g id="macd">
<rect x="11" y="495" width="1" height="54" fill="#c0c0c0"/>
<rect x="19" y="495" width="1" height="49" fill="#c0c0c0"/>
<rect x="27" y="495" width="1" height="44" fill="#c0c0c0"/>
<rect x="35" y="495" width="1" height="41" fill="#c0c0c0"/>
<rect x="43" y="495" width="1" height="38" fill="#c0c0c0"/>
<rect x="51" y="495" width="1" height="34" fill="#c0c0c0"/>
<rect x="59" y="495" width="1" height="30" fill="#c0c0c0"/>
<rect x="67" y="495" width="1" height="21" fill="#c0c0c0"/>
<rect x="75" y="495" width="1" height="17" fill="#c0c0c0"/>
<rect x="83" y="495" width="1" height="12" fill="#c0c0c0"/>
<rect x="91" y="495" width="1" height="7" fill="#c0c0c0"/>
<rect x="99" y="495" width="1" height="3" fill="#c0c0c0"/>
<rect x="107" y="495" width="1" height="9" fill="#c0c0c0"/>
<rect x="115" y="495" width="1" height="6" fill="#c0c0c0"/>
<rect x="123" y="495" width="1" height="3" fill="#c0c0c0"/>
<rect x="131" y="495" width="1" height="1" fill="#c0c0c0"/>
<rect x="139" y="495" width="1" height="1" fill="#c0c0c0"/>
<rect x="147" y="494" width="1" height="2" fill="#c0c0c0"/>
<rect x="155" y="494" width="1" height="2" fill="#c0c0c0"/>
<rect x="163" y="494" width="1" height="2" fill="#c0c0c0"/>
<rect x="171" y="494" width="1" height="2" fill="#c0c0c0"/>
<rect x="179" y="495" width="1" height="1" fill="#c0c0c0"/>
<rect x="187" y="495" width="1" height="1" fill="#c0c0c0"/>
<rect x="195" y="495" width="1" height="2" fill="#c0c0c0"/>
<rect x="203" y="495" width="1" height="7" fill="#c0c0c0"/>
<rect x="211" y="495" width="1" height="7" fill="#c0c0c0"/>
<rect x="219" y="495" width="1" height="10" fill="#c0c0c0"/>
<rect x="227" y="495" width="1" height="12" fill="#c0c0c0"/>
<rect x="235" y="495" width="1" height="16" fill="#c0c0c0"/>
<rect x="243" y="495" width="1" height="20" fill="#c0c0c0"/>
<rect x="251" y="495" width="1" height="23" fill="#c0c0c0"/>
<rect x="259" y="495" width="1" height="25" fill="#c0c0c0"/>
<rect x="267" y="495" width="1" height="25" fill="#c0c0c0"/>
<rect x="275" y="495" width="1" height="27" fill="#c0c0c0"/>
<rect x="283" y="495" width="1" height="27" fill="#c0c0c0"/>
<rect x="291" y="495" width="1" height="25" fill="#c0c0c0"/>
<rect x="299" y="495" width="1" height="24" fill="#c0c0c0"/>
<rect x="307" y="495" width="1" height="20" fill="#c0c0c0"/>
<rect x="315" y="495" width="1" height="17" fill="#c0c0c0"/>
<rect x="323" y="495" width="1" height="15" fill="#c0c0c0"/>
<rect x="331" y="495" width="1" height="13" fill="#c0c0c0"/>
<rect x="339" y="495" width="1" height="10" fill="#c0c0c0"/>
<rect x="347" y="495" width="1" height="11" fill="#c0c0c0"/>
<rect x="355" y="495" width="1" height="23" fill="#c0c0c0"/>
<rect x="363" y="495" width="1" height="31" fill="#c0c0c0"/>
<rect x="371" y="495" width="1" height="38" fill="#c0c0c0"/>
<rect x="379" y="495" width="1" height="47" fill="#c0c0c0"/>
<rect x="387" y="495" width="1" height="52" fill="#c0c0c0"/>
<rect x="395" y="495" width="1" height="62" fill="#c0c0c0"/>
<rect x="403" y="495" width="1" height="71" fill="#c0c0c0"/>
<rect x="411" y="495" width="1" height="77" fill="#c0c0c0"/>
<rect x="419" y="495" width="1" height="80" fill="#c0c0c0"/>
<rect x="427" y="495" width="1" height="83" fill="#c0c0c0"/>
<rect x="435" y="495" width="1" height="82" fill="#c0c0c0"/>
<rect x="443" y="495" width="1" height="79" fill="#c0c0c0"/>
<rect x="451" y="495" width="1" height="77" fill="#c0c0c0"/>
<rect x="459" y="495" width="1" height="75" fill="#c0c0c0"/>
<rect x="467" y="495" width="1" height="73" fill="#c0c0c0"/>
<rect x="475" y="495" width="1" height="70" fill="#c0c0c0"/>
<rect x="483" y="495" width="1" height="65" fill="#c0c0c0"/>
<rect x="491" y="495" width="1" height="59" fill="#c0c0c0"/>
<rect x="499" y="495" width="1" height="57" fill="#c0c0c0"/>
<rect x="507" y="495" width="1" height="55" fill="#c0c0c0"/>
<rect x="515" y="495" width="1" height="52" fill="#c0c0c0"/>
<rect x="523" y="495" width="1" height="49" fill="#c0c0c0"/>
<rect x="531" y="495" width="1" height="47" fill="#c0c0c0"/>
<rect x="539" y="495" width="1" height="45" fill="#c0c0c0"/>
<rect x="547" y="495" width="1" height="53" fill="#c0c0c0"/>
<rect x="555" y="495" width="1" height="56" fill="#c0c0c0"/>
<rect x="563" y="495" width="1" height="57" fill="#c0c0c0"/>
<rect x="571" y="495" width="1" height="64" fill="#c0c0c0"/>
<rect x="579" y="495" width="1" height="65" fill="#c0c0c0"/>
<rect x="587" y="495" width="1" height="67" fill="#c0c0c0"/>
<rect x="595" y="495" width="1" height="69" fill="#c0c0c0"/>
<rect x="603" y="495" width="1" height="67" fill="#c0c0c0"/>
<rect x="611" y="495" width="1" height="64" fill="#c0c0c0"/>
<rect x="619" y="495" width="1" height="59" fill="#c0c0c0"/>
<rect x="627" y="495" width="1" height="53" fill="#c0c0c0"/>
<rect x="635" y="495" width="1" height="42" fill="#c0c0c0"/>
<rect x="643" y="495" width="1" height="31" fill="#c0c0c0"/>
<rect x="651" y="495" width="1" height="21" fill="#c0c0c0"/>
<rect x="659" y="495" width="1" height="15" fill="#c0c0c0"/>
<rect x="667" y="495" width="1" height="9" fill="#c0c0c0"/>
<rect x="675" y="495" width="1" height="2" fill="#c0c0c0"/>
<rect x="683" y="490" width="1" height="6" fill="#c0c0c0"/>
<rect x="691" y="483" width="1" height="13" fill="#c0c0c0"/>
<rect x="699" y="477" width="1" height="19" fill="#c0c0c0"/>
<rect x="707" y="472" width="1" height="24" fill="#c0c0c0"/>
<rect x="715" y="466" width="1" height="30" fill="#c0c0c0"/>
<rect x="723" y="460" width="1" height="36" fill="#c0c0c0"/>
<rect x="731" y="455" width="1" height="41" fill="#c0c0c0"/>
<rect x="739" y="456" width="1" height="40" fill="#c0c0c0"/>
<rect x="747" y="454" width="1" height="42" fill="#c0c0c0"/>
<rect x="755" y="452" width="1" height="44" fill="#c0c0c0"/>
<rect x="763" y="451" width="1" height="45" fill="#c0c0c0"/>
<rect x="771" y="452" width="1" height="44" fill="#c0c0c0"/>
<rect x="779" y="452" width="1" height="44" fill="#c0c0c0"/>
<rect x="787" y="456" width="1" height="40" fill="#c0c0c0"/>
<rect x="795" y="458" width="1" height="38" fill="#c0c0c0"/>
<rect x="803" y="460" width="1" height="36" fill="#c0c0c0"/>
<rect x="811" y="462" width="1" height="34" fill="#c0c0c0"/>
<rect x="819" y="463" width="1" height="33" fill="#c0c0c0"/>
<rect x="827" y="468" width="1" height="28" fill="#c0c0c0"/>
<rect x="835" y="458" width="1" height="38" fill="#c0c0c0"/>
<rect x="843" y="454" width="1" height="42" fill="#c0c0c0"/>
<rect x="851" y="450" width="1" height="46" fill="#c0c0c0"/>
<rect x="859" y="445" width="1" height="51" fill="#c0c0c0"/>
<rect x="867" y="443" width="1" height="53" fill="#c0c0c0"/>
<rect x="875" y="443" width="1" height="53" fill="#c0c0c0"/>
<rect x="883" y="442" width="1" height="54" fill="#c0c0c0"/>
<rect x="891" y="441" width="1" height="55" fill="#c0c0c0"/>
<rect x="899" y="440" width="1" height="56" fill="#c0c0c0"/>
<rect x="907" y="444" width="1" height="52" fill="#c0c0c0"/>
<rect x="915" y="448" width="1" height="48" fill="#c0c0c0"/>
<rect x="923" y="454" width="1" height="42" fill="#c0c0c0"/>
<rect x="931" y="461" width="1" height="35" fill="#c0c0c0"/>
<rect x="939" y="472" width="1" height="24" fill="#c0c0c0"/>
<rect x="947" y="480" width="1" height="16" fill="#c0c0c0"/>
<path d="M913 443h5v1h-5zM921 443h4v1h-4zM905 444h5v1h-5zM925 444h1v1h-1zM898 445h4v1h-4zM929 445h4v1h-4zM897 446h1v1h-1zM933 446h1v1h-1zM893 447h1v1h-1zM937 447h1v1h-1zM890 448h3v1h-3zM938 448h3v1h-3zM889 449h1v1h-1zM941 449h1v1h-1zM885 450h1v1h-1zM945 450h1v1h-1zM882 451h3v1h-3zM946 451h2v1h-2zM881 452h1v1h-1zM780 453h2v1h-2zM785 453h5v1h-5zM793 453h5v1h-5zM874 453h4v1h-4zM777 454h3v1h-3zM801 454h5v1h-5zM809 454h5v1h-5zM873 454h1v1h-1zM773 455h1v1h-1zM817 455h5v1h-5zM866 455h4v1h-4zM770 456h3v1h-3zM825 456h1v1h-1zM865 456h1v1h-1zM769 457h1v1h-1zM826 457h4v1h-4zM857 457h5v1h-5zM765 458h1v1h-1zM833 458h5v1h-5zM841 458h5v1h-5zM849 458h5v1h-5zM762 459h3v1h-3zM761 460h1v1h-1zM756 462h2v1h-2zM754 463h2v1h-2zM753 464h1v1h-1zM748 466h2v1h-2zM747 467h1v1h-1zM745 468h2v1h-2zM740 471h2v1h-2zM739 472h1v1h-1zM737 473h2v1h-2zM733 476h1v1h-1zM732 477h1v1h-1zM730 478h2v1h-2zM729 479h1v1h-1zM725 482h1v1h-1zM724 483h1v1h-1zM723 484h1v1h-1zM722 485h1v1h-1zM721 486h1v1h-1zM716 489h2v1h-2zM715 490h1v1h-1zM714 491h1v1h-1zM713 492h1v1h-1zM185 495h5v1h-5zM193 495h5v1h-5zM709 495h1v1h-1zM164 496h2v1h-2zM169 496h5v1h-5zM177 496h5v1h-5zM201 496h5v1h-5zM209 496h5v1h-5zM708 496h1v1h-1zM156 497h2v1h-2zM161 497h3v1h-3zM217 497h1v1h-1zM707 497h1v1h-1zM153 498h3v1h-3zM218 498h4v1h-4zM706 498h1v1h-1zM148 499h2v1h-2zM225 499h4v1h-4zM705 499h1v1h-1zM145 500h3v1h-3zM229 500h1v1h-1zM140 501h2v1h-2zM233 501h4v1h-4zM137 502h3v1h-3zM237 502h1v1h-1zM132 503h2v1h-2zM241 503h2v1h-2zM701 503h1v1h-1zM129 504h3v1h-3zM243 504h3v1h-3zM700 504h1v1h-1zM249 505h1v1h-1zM699 505h1v1h-1zM125 506h1v1h-1zM250 506h3v1h-3zM698 506h1v1h-1zM122 507h3v1h-3zM253 507h1v1h-1zM697 507h1v1h-1zM121 508h1v1h-1zM257 508h2v1h-2zM259 509h3v1h-3zM116 510h2v1h-2zM265 510h1v1h-1zM113 511h3v1h-3zM266 511h3v1h-3zM693 511h1v1h-1zM269 512h1v1h-1zM692 512h1v1h-1zM109 513h1v1h-1zM273 513h2v1h-2zM346 513h4v1h-4zM353 513h5v1h-5zM691 513h1v1h-1zM106 514h3v1h-3zM275 514h3v1h-3zM345 514h1v1h-1zM361 514h5v1h-5zM690 514h1v1h-1zM105 515h1v1h-1zM281 515h4v1h-4zM338 515h4v1h-4zM369 515h4v1h-4zM689 515h1v1h-1zM285 516h1v1h-1zM337 516h1v1h-1zM373 516h1v1h-1zM100 517h2v1h-2zM289 517h4v1h-4zM329 517h5v1h-5zM377 517h1v1h-1zM98 518h2v1h-2zM293 518h1v1h-1zM321 518h5v1h-5zM378 518h2v1h-2zM97 519h1v1h-1zM297 519h5v1h-5zM305 519h5v1h-5zM313 519h5v1h-5zM380 519h2v1h-2zM685 519h1v1h-1zM684 520h1v1h-1zM92 521h2v1h-2zM385 521h1v1h-1zM683 521h1v1h-1zM90 522h2v1h-2zM386 522h2v1h-2zM682 522h1v1h-1zM89 523h1v1h-1zM388 523h2v1h-2zM681 523h1v1h-1zM393 525h1v1h-1zM84 526h2v1h-2zM394 526h1v1h-1zM83 527h1v1h-1zM395 527h2v1h-2zM677 527h1v1h-1zM81 528h2v1h-2zM397 528h1v1h-1zM676 528h1v1h-1zM675 529h1v1h-1zM674 530h1v1h-1zM76 531h2v1h-2zM401 531h1v1h-1zM673 531h1v1h-1zM75 532h1v1h-1zM402 532h1v1h-1zM73 533h2v1h-2zM403 533h1v1h-1zM404 534h1v1h-1zM69 535h1v1h-1zM405 535h1v1h-1zM669 535h1v1h-1zM67 536h2v1h-2zM668 536h1v1h-1zM65 537h2v1h-2zM666 537h2v1h-2zM409 538h1v1h-1zM665 538h1v1h-1zM61 539h1v1h-1zM410 539h1v1h-1zM58 540h3v1h-3zM411 540h1v1h-1zM57 541h1v1h-1zM412 541h1v1h-1zM661 541h1v1h-1zM53 542h1v1h-1zM413 542h1v1h-1zM660 542h1v1h-1zM50 543h3v1h-3zM658 543h2v1h-2zM49 544h1v1h-1zM657 544h1v1h-1zM45 545h1v1h-1zM42 546h3v1h-3zM417 546h1v1h-1zM41 547h1v1h-1zM418 547h1v1h-1zM653 547h1v1h-1zM33 548h5v1h-5zM419 548h2v1h-2zM553 548h5v1h-5zM561 548h5v1h-5zM569 548h5v1h-5zM652 548h1v1h-1zM25 549h5v1h-5zM421 549h1v1h-1zM546 549h4v1h-4zM577 549h5v1h-5zM650 549h2v1h-2zM3 550h3v1h-3zM9 550h5v1h-5zM17 550h5v1h-5zM545 550h1v1h-1zM585 550h1v1h-1zM649 550h1v1h-1zM538 551h4v1h-4zM586 551h4v1h-4zM537 552h1v1h-1zM593 552h1v1h-1zM644 552h2v1h-2zM425 553h1v1h-1zM532 553h2v1h-2zM594 553h4v1h-4zM642 553h2v1h-2zM426 554h1v1h-1zM529 554h3v1h-3zM601 554h1v1h-1zM641 554h1v1h-1zM427 555h1v1h-1zM602 555h3v1h-3zM428 556h2v1h-2zM525 556h1v1h-1zM605 556h1v1h-1zM636 556h2v1h-2zM522 557h3v1h-3zM609 557h1v1h-1zM629 557h1v1h-1zM633 557h3v1h-3zM521 558h1v1h-1zM610 558h4v1h-4zM617 558h5v1h-5zM625 558h4v1h-4zM433 559h2v1h-2zM517 559h1v1h-1zM435 560h1v1h-1zM514 560h3v1h-3zM436 561h2v1h-2zM513 561h1v1h-1zM509 562h1v1h-1zM441 563h1v1h-1zM506 563h3v1h-3zM442 564h1v1h-1zM505 564h1v1h-1zM443 565h2v1h-2zM501 565h1v1h-1zM445 566h1v1h-1zM498 566h3v1h-3zM497 567h1v1h-1zM449 568h2v1h-2zM493 568h1v1h-1zM451 569h3v1h-3zM490 569h3v1h-3zM457 570h1v1h-1zM489 570h1v1h-1zM458 571h4v1h-4zM481 571h5v1h-5zM465 572h5v1h-5zM473 572h5v1h-5z" fill="#ff0000"/>
</g>
<text x="7" y="444" font-size="10" fill="#000" textLength="117" lengthAdjust="spacingAndGlyphs" stroke="#000" stroke-width="0.25">MACD(12,26,9) 3.394 9.348</text>
<text x="1207.5" y="442" font-size="10" fill="#000" textLength="26.7" lengthAdjust="spacingAndGlyphs" stroke="#000" stroke-width="0.25">13.765</text>
<text x="1207" y="499" font-size="10" fill="#000" textLength="18" lengthAdjust="spacingAndGlyphs" stroke="#000" stroke-width="0.25">0.00</text>
<text x="1207" y="582" font-size="10" fill="#000" textLength="26" lengthAdjust="spacingAndGlyphs" stroke="#000" stroke-width="0.25">-19.82</text>
<rect x="1204" y="495" width="2" height="1" fill="#000"/>
<rect x="1204" y="433" width="1" height="1" fill="#000"/>
<rect x="1204" y="584" width="1" height="1" fill="#000"/>
<rect x="1204" y="589" width="1" height="1" fill="#000"/>
<rect x="1204" y="674" width="1" height="1" fill="#000"/>
<g id="rsi">
<line x1="4" y1="614.5" x2="1203" y2="614.5" stroke="#c0c0c0" stroke-width="1" stroke-dasharray="3 3"/>
<line x1="4" y1="649.5" x2="1203" y2="649.5" stroke="#c0c0c0" stroke-width="1" stroke-dasharray="3 3"/>
<path d="M721 613h11v1h-11zM719 614h2v1h-2zM732 614h1v1h-1zM835 614h2v1h-2zM856 614h6v1h-6zM716 615h3v1h-3zM733 615h1v1h-1zM834 615h1v1h-1zM837 615h2v1h-2zM852 615h4v1h-4zM862 615h2v1h-2zM713 616h3v1h-3zM734 616h1v1h-1zM834 616h1v1h-1zM839 616h2v1h-2zM849 616h3v1h-3zM864 616h3v1h-3zM709 617h4v1h-4zM734 617h1v1h-1zM833 617h1v1h-1zM841 617h2v1h-2zM845 617h4v1h-4zM867 617h2v1h-2zM887 617h13v1h-13zM695 618h14v1h-14zM735 618h1v1h-1zM747 618h5v1h-5zM759 618h7v1h-7zM833 618h1v1h-1zM843 618h2v1h-2zM869 618h3v1h-3zM881 618h6v1h-6zM900 618h1v1h-1zM685 619h10v1h-10zM736 619h1v1h-1zM745 619h2v1h-2zM752 619h7v1h-7zM766 619h5v1h-5zM773 619h7v1h-7zM832 619h1v1h-1zM872 619h3v1h-3zM876 619h5v1h-5zM901 619h2v1h-2zM682 620h3v1h-3zM737 620h1v1h-1zM743 620h2v1h-2zM771 620h2v1h-2zM780 620h1v1h-1zM832 620h1v1h-1zM875 620h1v1h-1zM903 620h1v1h-1zM680 621h2v1h-2zM738 621h1v1h-1zM742 621h1v1h-1zM781 621h1v1h-1zM831 621h1v1h-1zM904 621h1v1h-1zM678 622h2v1h-2zM738 622h1v1h-1zM740 622h2v1h-2zM782 622h1v1h-1zM831 622h1v1h-1zM905 622h1v1h-1zM676 623h2v1h-2zM739 623h1v1h-1zM783 623h1v1h-1zM830 623h1v1h-1zM906 623h1v1h-1zM674 624h2v1h-2zM784 624h1v1h-1zM794 624h5v1h-5zM808 624h12v1h-12zM830 624h1v1h-1zM907 624h10v1h-10zM89 625h5v1h-5zM647 625h11v1h-11zM671 625h3v1h-3zM785 625h1v1h-1zM791 625h3v1h-3zM799 625h9v1h-9zM820 625h2v1h-2zM829 625h1v1h-1zM917 625h1v1h-1zM87 626h2v1h-2zM94 626h2v1h-2zM640 626h7v1h-7zM658 626h6v1h-6zM669 626h2v1h-2zM786 626h1v1h-1zM789 626h2v1h-2zM822 626h1v1h-1zM829 626h1v1h-1zM918 626h2v1h-2zM67 627h3v1h-3zM84 627h3v1h-3zM96 627h3v1h-3zM635 627h5v1h-5zM664 627h5v1h-5zM787 627h2v1h-2zM823 627h2v1h-2zM828 627h1v1h-1zM920 627h2v1h-2zM66 628h1v1h-1zM70 628h2v1h-2zM81 628h3v1h-3zM99 628h1v1h-1zM634 628h1v1h-1zM825 628h1v1h-1zM828 628h1v1h-1zM922 628h1v1h-1zM65 629h1v1h-1zM72 629h3v1h-3zM77 629h4v1h-4zM100 629h1v1h-1zM115 629h2v1h-2zM132 629h9v1h-9zM633 629h1v1h-1zM826 629h2v1h-2zM923 629h3v1h-3zM64 630h1v1h-1zM75 630h2v1h-2zM100 630h1v1h-1zM114 630h1v1h-1zM117 630h4v1h-4zM127 630h5v1h-5zM141 630h4v1h-4zM151 630h16v1h-16zM336 630h4v1h-4zM632 630h1v1h-1zM827 630h1v1h-1zM926 630h2v1h-2zM63 631h1v1h-1zM101 631h1v1h-1zM114 631h1v1h-1zM121 631h6v1h-6zM145 631h6v1h-6zM167 631h4v1h-4zM307 631h5v1h-5zM332 631h4v1h-4zM340 631h1v1h-1zM631 631h1v1h-1zM928 631h2v1h-2zM62 632h1v1h-1zM102 632h1v1h-1zM113 632h1v1h-1zM171 632h3v1h-3zM306 632h1v1h-1zM312 632h7v1h-7zM326 632h6v1h-6zM341 632h1v1h-1zM630 632h1v1h-1zM930 632h2v1h-2zM61 633h1v1h-1zM102 633h1v1h-1zM112 633h1v1h-1zM174 633h3v1h-3zM194 633h2v1h-2zM211 633h2v1h-2zM305 633h1v1h-1zM319 633h7v1h-7zM342 633h1v1h-1zM629 633h1v1h-1zM932 633h1v1h-1zM60 634h1v1h-1zM103 634h1v1h-1zM111 634h1v1h-1zM177 634h4v1h-4zM191 634h3v1h-3zM196 634h2v1h-2zM209 634h2v1h-2zM213 634h2v1h-2zM303 634h2v1h-2zM343 634h1v1h-1zM628 634h1v1h-1zM933 634h1v1h-1zM18 635h6v1h-6zM47 635h13v1h-13zM104 635h1v1h-1zM111 635h1v1h-1zM181 635h4v1h-4zM189 635h2v1h-2zM198 635h1v1h-1zM208 635h1v1h-1zM215 635h2v1h-2zM302 635h1v1h-1zM344 635h1v1h-1zM627 635h1v1h-1zM934 635h2v1h-2zM16 636h2v1h-2zM24 636h9v1h-9zM38 636h9v1h-9zM104 636h1v1h-1zM110 636h1v1h-1zM185 636h4v1h-4zM199 636h1v1h-1zM207 636h1v1h-1zM217 636h2v1h-2zM301 636h1v1h-1zM345 636h1v1h-1zM626 636h2v1h-2zM936 636h1v1h-1zM15 637h1v1h-1zM33 637h5v1h-5zM105 637h1v1h-1zM109 637h1v1h-1zM200 637h2v1h-2zM205 637h2v1h-2zM219 637h5v1h-5zM300 637h1v1h-1zM346 637h1v1h-1zM624 637h2v1h-2zM937 637h1v1h-1zM13 638h2v1h-2zM106 638h1v1h-1zM108 638h1v1h-1zM202 638h1v1h-1zM204 638h1v1h-1zM224 638h6v1h-6zM287 638h13v1h-13zM347 638h1v1h-1zM622 638h2v1h-2zM938 638h1v1h-1zM10 639h3v1h-3zM106 639h1v1h-1zM108 639h1v1h-1zM203 639h1v1h-1zM230 639h4v1h-4zM266 639h6v1h-6zM279 639h8v1h-8zM348 639h1v1h-1zM621 639h1v1h-1zM939 639h9v1h-9zM4 640h6v1h-6zM107 640h1v1h-1zM234 640h4v1h-4zM264 640h2v1h-2zM272 640h7v1h-7zM348 640h1v1h-1zM619 640h2v1h-2zM3 641h1v1h-1zM238 641h4v1h-4zM262 641h2v1h-2zM349 641h1v1h-1zM483 641h1v1h-1zM617 641h2v1h-2zM242 642h13v1h-13zM261 642h1v1h-1zM349 642h1v1h-1zM481 642h2v1h-2zM484 642h7v1h-7zM616 642h1v1h-1zM255 643h6v1h-6zM350 643h1v1h-1zM480 643h1v1h-1zM491 643h4v1h-4zM614 643h2v1h-2zM350 644h1v1h-1zM478 644h2v1h-2zM495 644h3v1h-3zM526 644h9v1h-9zM603 644h4v1h-4zM613 644h1v1h-1zM351 645h1v1h-1zM476 645h2v1h-2zM498 645h28v1h-28zM535 645h4v1h-4zM601 645h2v1h-2zM607 645h6v1h-6zM352 646h1v1h-1zM472 646h4v1h-4zM539 646h1v1h-1zM600 646h1v1h-1zM352 647h1v1h-1zM440 647h10v1h-10zM469 647h3v1h-3zM540 647h1v1h-1zM598 647h2v1h-2zM353 648h1v1h-1zM363 648h2v1h-2zM437 648h3v1h-3zM450 648h7v1h-7zM462 648h7v1h-7zM541 648h1v1h-1zM579 648h3v1h-3zM597 648h1v1h-1zM353 649h1v1h-1zM361 649h2v1h-2zM365 649h6v1h-6zM434 649h3v1h-3zM457 649h5v1h-5zM542 649h1v1h-1zM578 649h1v1h-1zM582 649h2v1h-2zM596 649h1v1h-1zM354 650h1v1h-1zM359 650h2v1h-2zM371 650h3v1h-3zM433 650h1v1h-1zM542 650h1v1h-1zM577 650h1v1h-1zM584 650h2v1h-2zM591 650h5v1h-5zM354 651h1v1h-1zM357 651h2v1h-2zM374 651h2v1h-2zM385 651h4v1h-4zM431 651h2v1h-2zM543 651h1v1h-1zM555 651h10v1h-10zM576 651h1v1h-1zM586 651h5v1h-5zM355 652h2v1h-2zM376 652h3v1h-3zM381 652h4v1h-4zM389 652h2v1h-2zM430 652h1v1h-1zM544 652h1v1h-1zM553 652h2v1h-2zM565 652h1v1h-1zM575 652h1v1h-1zM379 653h2v1h-2zM391 653h1v1h-1zM418 653h7v1h-7zM428 653h2v1h-2zM545 653h1v1h-1zM552 653h1v1h-1zM566 653h2v1h-2zM574 653h1v1h-1zM392 654h2v1h-2zM416 654h2v1h-2zM425 654h3v1h-3zM545 654h1v1h-1zM550 654h2v1h-2zM568 654h1v1h-1zM573 654h1v1h-1zM394 655h3v1h-3zM414 655h2v1h-2zM546 655h1v1h-1zM548 655h2v1h-2zM569 655h2v1h-2zM572 655h1v1h-1zM397 656h5v1h-5zM412 656h2v1h-2zM547 656h1v1h-1zM571 656h1v1h-1zM402 657h10v1h-10z" fill="#1e90ff"/>
</g>
<text x="7" y="600" font-size="10" fill="#000" textLength="68" lengthAdjust="spacingAndGlyphs" stroke="#000" stroke-width="0.25">RSI(14) 41.5726</text>
<text x="1207.5" y="598" font-size="10" fill="#000" textLength="14" lengthAdjust="spacingAndGlyphs" stroke="#000" stroke-width="0.25">100</text>
<text x="1205.7" y="618" font-size="10" fill="#000" textLength="9.5" lengthAdjust="spacingAndGlyphs" stroke="#000" stroke-width="0.25">70</text>
<text x="1205.7" y="653" font-size="10" fill="#000" textLength="9.5" lengthAdjust="spacingAndGlyphs" stroke="#000" stroke-width="0.25">30</text>
<text x="1207" y="672" font-size="10" fill="#000" stroke="#000" stroke-width="0.25">0</text>
<rect x="3" y="676" width="1" height="2" fill="#000"/>
<text x="2" y="688" font-size="10" fill="#000" textLength="53" lengthAdjust="spacingAndGlyphs" stroke="#000" stroke-width="0.25">12 Nov 2020</text>
<rect x="67" y="676" width="1" height="2" fill="#000"/>
<text x="66" y="688" font-size="10" fill="#000" textLength="56" lengthAdjust="spacingAndGlyphs" stroke="#000" stroke-width="0.25">13 Nov 12:00</text>
<rect x="131" y="676" width="1" height="2" fill="#000"/>
<text x="130" y="688" font-size="10" fill="#000" textLength="56" lengthAdjust="spacingAndGlyphs" stroke="#000" stroke-width="0.25">16 Nov 20:00</text>
<rect x="195" y="676" width="1" height="2" fill="#000"/>
<text x="194" y="688" font-size="10" fill="#000" textLength="56" lengthAdjust="spacingAndGlyphs" stroke="#000" stroke-width="0.25">18 Nov 04:00</text>
<rect x="259" y="676" width="1" height="2" fill="#000"/>
<text x="258" y="688" font-size="10" fill="#000" textLength="56" lengthAdjust="spacingAndGlyphs" stroke="#000" stroke-width="0.25">19 Nov 12:00</text>
<rect x="323" y="676" width="1" height="2" fill="#000"/>
<text x="322" y="688" font-size="10" fill="#000" textLength="56" lengthAdjust="spacingAndGlyphs" stroke="#000" stroke-width="0.25">22 Nov 23:00</text>
<rect x="387" y="676" width="1" height="2" fill="#000"/>
<text x="386" y="688" font-size="10" fill="#000" textLength="56" lengthAdjust="spacingAndGlyphs" stroke="#000" stroke-width="0.25">24 Nov 04:00</text>
<rect x="451" y="676" width="1" height="2" fill="#000"/>
<text x="450" y="688" font-size="10" fill="#000" textLength="56" lengthAdjust="spacingAndGlyphs" stroke="#000" stroke-width="0.25">25 Nov 12:00</text>
<rect x="515" y="676" width="1" height="2" fill="#000"/>
<text x="514" y="688" font-size="10" fill="#000" textLength="56" lengthAdjust="spacingAndGlyphs" stroke="#000" stroke-width="0.25">26 Nov 23:00</text>
<rect x="579" y="676" width="1" height="2" fill="#000"/>
<text x="578" y="688" font-size="10" fill="#000" textLength="56" lengthAdjust="spacingAndGlyphs" stroke="#000" stroke-width="0.25">30 Nov 04:00</text>
<rect x="643" y="676" width="1" height="2" fill="#000"/>
<text x="642" y="688" font-size="10" fill="#000" textLength="49.5" lengthAdjust="spacingAndGlyphs" stroke="#000" stroke-width="0.25">1 Dec 12:00</text>
<rect x="707" y="676" width="1" height="2" fill="#000"/>
<text x="706" y="688" font-size="10" fill="#000" textLength="49.5" lengthAdjust="spacingAndGlyphs" stroke="#000" stroke-width="0.25">2 Dec 20:00</text>
<rect x="771" y="676" width="1" height="2" fill="#000"/>
<text x="770" y="688" font-size="10" fill="#000" textLength="49.5" lengthAdjust="spacingAndGlyphs" stroke="#000" stroke-width="0.25">4 Dec 04:00</text>
<rect x="835" y="676" width="1" height="2" fill="#000"/>
<text x="834" y="688" font-size="10" fill="#000" textLength="49.5" lengthAdjust="spacingAndGlyphs" stroke="#000" stroke-width="0.25">7 Dec 12:00</text>
<rect x="899" y="676" width="1" height="2" fill="#000"/>
<text x="898" y="688" font-size="10" fill="#000" textLength="49.5" lengthAdjust="spacingAndGlyphs" stroke="#000" stroke-width="0.25">8 Dec 20:00</text>
<rect x="0" y="696" width="1249" height="1" fill="#e0e0e0"/>
<rect x="0" y="698" width="165" height="1" fill="#000"/>
<rect x="164" y="698" width="1" height="2" fill="#000"/>
<rect x="263" y="698" width="986" height="1" fill="#000"/>
<rect x="263" y="698" width="1" height="2" fill="#000"/>
</svg>
</body>
</html>
